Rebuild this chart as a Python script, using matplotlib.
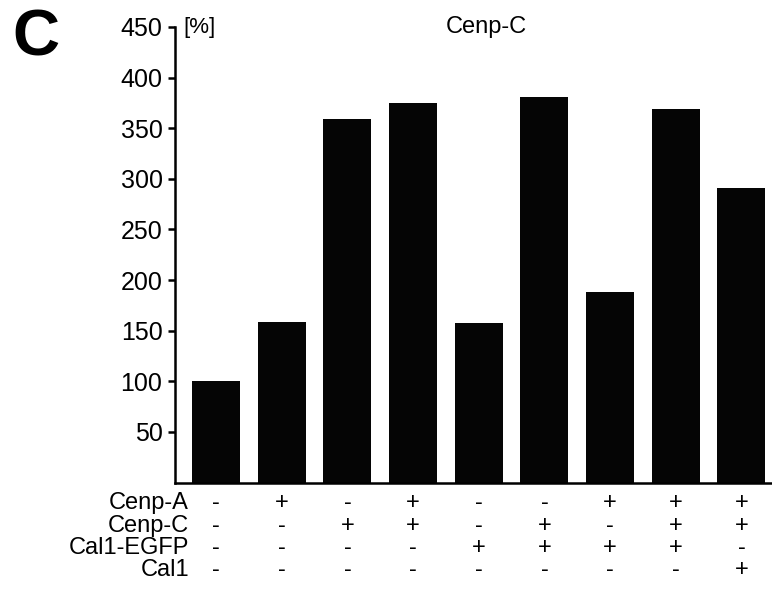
import matplotlib
matplotlib.use("Agg")
import matplotlib.pyplot as plt
from matplotlib.transforms import blended_transform_factory

plt.rcParams['font.family'] = ['Liberation Sans', 'DejaVu Sans']

values = [100, 159, 359, 375, 158, 381, 188, 369, 291]
row_labels = ["Cenp-A", "Cenp-C", "Cal1-EGFP", "Cal1"]
rows = [
    ["-", "+", "-", "+", "-", "-", "+", "+", "+"],
    ["-", "-", "+", "+", "-", "+", "-", "+", "+"],
    ["-", "-", "-", "-", "+", "+", "+", "+", "-"],
    ["-", "-", "-", "-", "-", "-", "-", "-", "+"],
]
yticks = [50, 100, 150, 200, 250, 300, 350, 400, 450]

W, H = 772, 600
fig = plt.figure(figsize=(W / 100, H / 100), dpi=100)
ax = fig.add_axes([175 / W, (H - 482.6) / H, (771 - 175) / W, (482.6 - 27) / H])

x = list(range(len(values)))
ax.bar(x, values, width=0.73, color="#050505")
ax.set_xlim(-0.625, 8.45)
ax.set_ylim(0, 450)
ax.set_yticks(yticks)
ax.set_yticklabels([str(t) for t in yticks], fontsize=18)
ax.set_xticks([])
for s in ["top", "right"]:
    ax.spines[s].set_visible(False)
for s in ["left", "bottom"]:
    ax.spines[s].set_linewidth(1.8)
ax.tick_params(axis="y", length=5, width=1.8, pad=4)

fig.text(183 / W, 1 - 27 / H, "[%]", fontsize=16, va="center", ha="left")
fig.text(486 / W, 1 - 27 / H, "Cenp-C", fontsize=17, ha="center", va="center")
fig.text(36 / W, 1 - 39 / H, "C", fontsize=47, fontweight="bold", ha="center", va="center")

tr = blended_transform_factory(ax.transData, fig.transFigure)
row_y = [503, 526, 548, 570]
for lab, syms, yy in zip(row_labels, rows, row_y):
    fig.text(189 / W, 1 - yy / H, lab, fontsize=17, ha="right", va="center")
    for xi, s in zip(x, syms):
        ax.text(xi, 1 - yy / H, s, transform=tr, fontsize=17, ha="center", va="center")

fig.savefig("out.png", dpi=100)
